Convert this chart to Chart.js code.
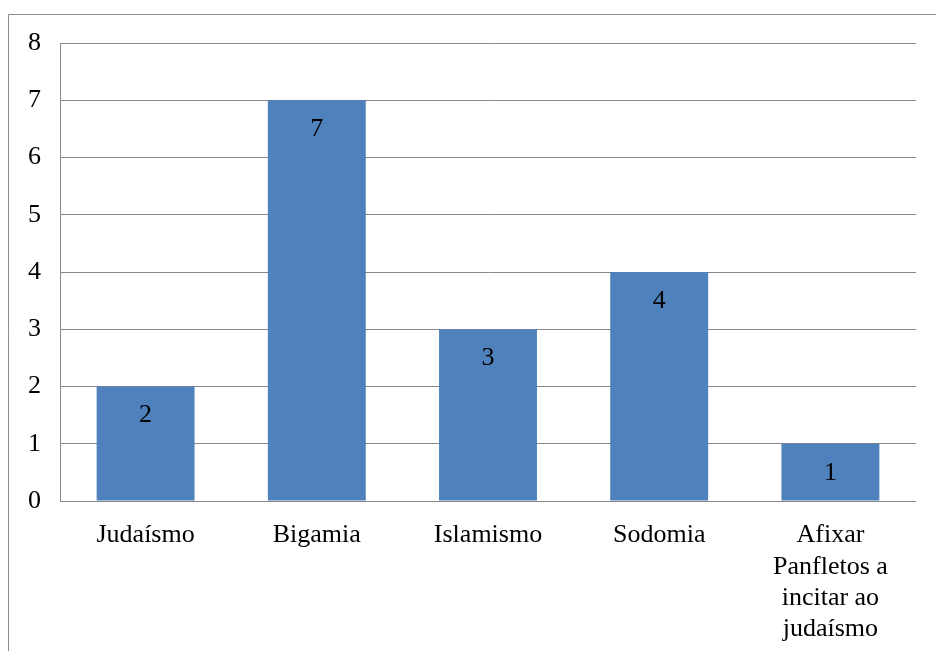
<!DOCTYPE html>
<html>
<head>
<meta charset="utf-8">
<script src="https://cdn.jsdelivr.net/npm/chart.js@4.4.1/dist/chart.umd.min.js"></script>
<style>
  html, body { margin: 0; padding: 0; background: #fff; }
  #wrap { width: 936px; height: 651px; position: relative; }
</style>
</head>
<body>
<div id="wrap"><canvas id="c" width="936" height="651"></canvas></div>
<script>
// Number of cases per accusation
const categories = [
  'Judaísmo',
  'Bigamia',
  'Islamismo',
  'Sodomia',
  ['Afixar', 'Panfletos a', 'incitar ao', 'judaísmo']
];
const counts = [2, 7, 3, 4, 1];
const yTicks = [0, 1, 2, 3, 4, 5, 6, 7, 8];

const FONT = '"Liberation Serif", "Times New Roman", serif';
const GRID = '#878787';

// Frame around the chart (left and top edges visible)
const framePlugin = {
  id: 'frame',
  beforeDraw(chart) {
    const ctx = chart.ctx;
    ctx.save();
    ctx.strokeStyle = '#8c8c8c';
    ctx.lineWidth = 1;
    ctx.beginPath();
    ctx.moveTo(8.5, chart.height);
    ctx.lineTo(8.5, 14.5);
    ctx.lineTo(chart.width, 14.5);
    ctx.stroke();
    ctx.restore();
  }
};

// Value labels drawn inside each bar, near its top
const valueLabels = {
  id: 'valueLabels',
  afterDatasetsDraw(chart) {
    const ctx = chart.ctx;
    const meta = chart.getDatasetMeta(0);
    const data = chart.data.datasets[0].data;
    ctx.save();
    ctx.font = '26px ' + FONT;
    ctx.fillStyle = '#000';
    ctx.textAlign = 'center';
    ctx.textBaseline = 'middle';
    meta.data.forEach((bar, i) => {
      ctx.fillText(String(data[i]), bar.x, bar.y + 29);
    });
    ctx.restore();
  }
};

new Chart(document.getElementById('c'), {
  type: 'bar',
  data: {
    labels: categories,
    datasets: [{
      data: counts,
      backgroundColor: '#4f81bd',
      borderWidth: 0,
      barPercentage: 0.572,
      categoryPercentage: 1.0
    }]
  },
  options: {
    responsive: false,
    animation: false,
    devicePixelRatio: 1,
    layout: { padding: { top: 43, right: 20, left: 0, bottom: 0 } },
    plugins: {
      legend: { display: false },
      tooltip: { enabled: false }
    },
    scales: {
      x: {
        afterFit(scale) { scale.height = 150; },
        grid: { display: false, drawTicks: false },
        border: { display: false },
        ticks: {
          color: '#000',
          font: { family: FONT, size: 26, lineHeight: 1.2 },
          padding: 19,
          maxRotation: 0,
          autoSkip: false
        }
      },
      y: {
        min: 0,
        max: 8,
        afterFit(scale) { scale.width = 60; },
        afterBuildTicks(scale) { scale.ticks = yTicks.map(v => ({ value: v })); },
        grid: { color: GRID, lineWidth: 1, drawTicks: false },
        border: { display: true, color: GRID, width: 1 },
        ticks: {
          color: '#000',
          font: { family: FONT, size: 26 },
          padding: 19
        }
      }
    }
  },
  plugins: [framePlugin, valueLabels]
});
</script>
</body>
</html>
